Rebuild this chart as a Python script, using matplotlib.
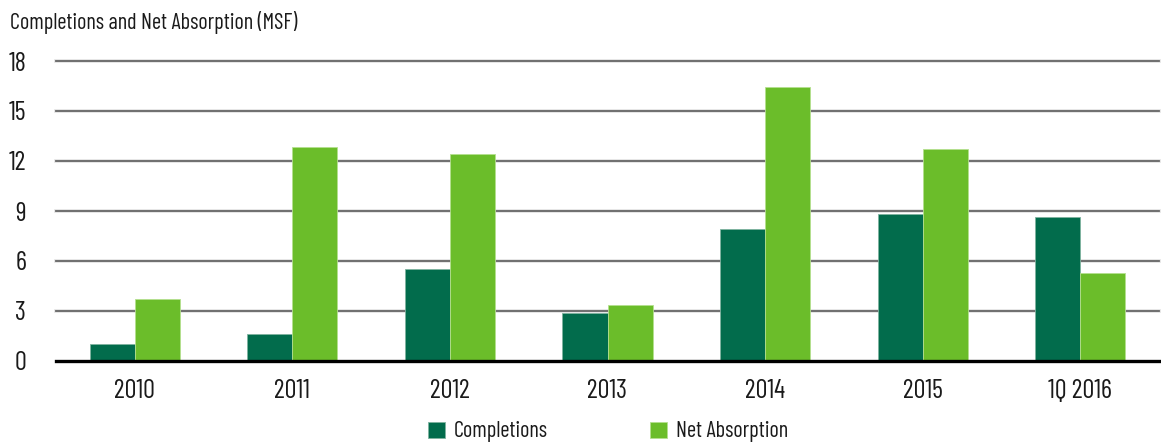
import matplotlib
matplotlib.use("Agg")
import matplotlib.pyplot as plt
from matplotlib import font_manager as fm
import numpy as np

categories = ["2010", "2011", "2012", "2013", "2014", "2015", "1Q 2016"]
completions = [1.0, 1.62, 5.52, 2.9, 7.94, 8.82, 8.64]
net_absorption = [3.74, 12.84, 12.42, 3.34, 16.44, 12.72, 5.26]
yticks = [0, 3, 6, 9, 12, 15, 18]

# choose a condensed face by file name
prefs = ["BarlowCondensed-Regular", "RobotoCondensed-Regular", "FiraSansCondensed-Regular",
         "IBMPlexSansCondensed-Regular", "LiberationSansNarrow-Regular"]
fp = None
files = [f.fname for f in fm.fontManager.ttflist]
for p in prefs:
    hits = [f for f in files if f.split('/')[-1].startswith(p)]
    if hits:
        fp = fm.FontProperties(fname=hits[0])
        break
if fp is None:
    fp = fm.FontProperties(family='DejaVu Sans')
fp_title = fp.copy()
fp_title.set_size(16)
fp_tick = fp.copy()
fp_tick.set_size(19)
fp_leg = fp.copy()
fp_leg.set_size(16)

dark = "#026c4c"
light = "#6bbd2a"
txt = "#1a1a1a"

fig = plt.figure(figsize=(11.61, 4.46), dpi=100)
ax = fig.add_axes([56/1161, 85/446, 1103/1161, 300/446])
x = np.arange(len(categories))
w = 0.286
ax.bar(x - w/2, completions, w, color=dark, edgecolor="#7fb3a0", linewidth=0.6, label="Completions", zorder=3)
ax.bar(x + w/2, net_absorption, w, color=light, edgecolor="#b5e08f", linewidth=0.6, label="Net Absorption", zorder=3)

ax.set_xlim(-0.5, len(categories) - 0.5)
ax.set_ylim(0, 18)
ax.set_yticks(yticks)
ax.set_yticklabels([str(t) for t in yticks], fontproperties=fp_tick, color=txt)
ax.set_xticks(x)
ax.set_xticklabels(categories, fontproperties=fp_tick, color=txt)
for t in yticks[1:]:
    ax.axhline(t, color="#e0e0e0", linewidth=2.6, zorder=1, clip_on=False)
    ax.axhline(t, color="#666666", linewidth=1.3, zorder=1.5, clip_on=False)
ax.axhline(0, color="black", linewidth=2.4, zorder=4, clip_on=False)
for s in ax.spines.values():
    s.set_visible(False)
ax.tick_params(axis='both', length=0)
ax.tick_params(axis='y', pad=21.5)
ax.tick_params(axis='x', pad=13)

fig.text(10/1161, 1 - 22/446, "Completions and Net Absorption (MSF)", fontproperties=fp_title, color=txt, va='center', ha='left')

leg = fig.legend(loc='center', bbox_to_anchor=(608/1161, 1 - 432/446), ncol=2, frameon=False,
                 prop=fp_leg, handlelength=0.75, handleheight=0.75, columnspacing=4.6, handletextpad=0.4)
for t in leg.get_texts():
    t.set_color(txt)

fig.savefig("out.png", dpi=100)
